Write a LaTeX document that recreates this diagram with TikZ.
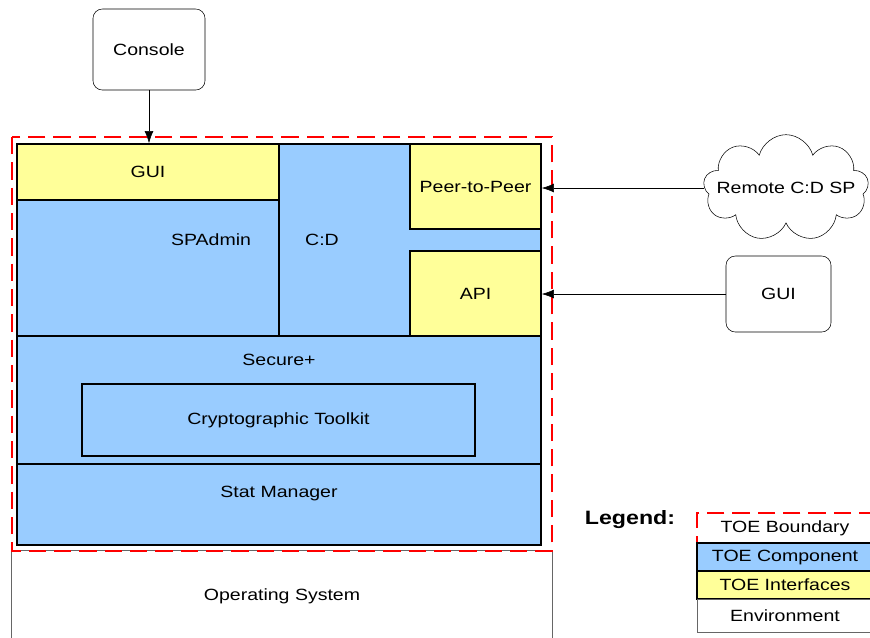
\documentclass[tikz,border=0pt]{standalone}
\usepackage{fontspec}
\setmainfont{Liberation Sans}[FakeStretch=1.2]
\usetikzlibrary{arrows.meta, fit, shapes.symbols}
\definecolor{toeblue}{HTML}{99CCFF}
\definecolor{toeyellow}{HTML}{FFFF99}

\tikzset{
    comp/.style={draw, line width=1.2pt, fill=toeblue, inner sep=0pt},
    iface/.style={draw, line width=1.2pt, fill=toeyellow, inner sep=0pt},
    env/.style={draw, rounded corners=7pt, thin, inner sep=0pt},
    boundary/.style={draw=red, line width=2.2pt, dash pattern=on 13pt off 6pt},
    link/.style={-{Latex[length=9pt,width=6.5pt]}, thin},
}

\begin{document}
\begin{tikzpicture}[x=0.75pt, y=-0.75pt, font=\fontsize{12.2}{14}\selectfont]
    \useasboundingbox (0,0) rectangle (870,637);

    % environment below the TOE
    \node[fit={(12,551) (552,660)}, inner sep=0pt] (os) {};
    \draw[black!60] (os.south west) -- (os.north west) -- (os.north east) -- (os.south east);
    \node at (282,596) {Operating System};

    % TOE components
    \node[comp, fit={(279,144) (541,336)}] (cd) {};
    \node[comp, fit={(17,200) (279,336)}] (spadmin) {};
    \node[iface, fit={(17,144) (279,200)}, label=center:GUI] (gui) {};
    \node[iface, fit={(410,144) (541,229)}, label=center:Peer-to-Peer] (p2p) {};
    \node[iface, fit={(410,251) (541,336)}, label=center:API] (api) {};
    \node[comp, fit={(17,336) (541,464)}] (secure) {};
    \node[comp, fit={(82,384) (475,456)}, label=center:Cryptographic Toolkit] (crypto) {};
    \node[comp, fit={(17,464) (541,545)}] (stat) {};
    \draw[line width=2pt] (17,144) rectangle (541,545);
    \draw[boundary] (12,137) rectangle (552,551);

    % labels
    \node at (211,240) {SPAdmin};
    \node at (322,240) {C:D};
    \node at (279,360) {Secure+};
    \node at (279,493) {Stat Manager};

    % outside entities
    \node[env, minimum width=84pt, minimum height=60.75pt] (console) at (149,49.5) {Console};
    \node[cloud, draw, thin, cloud puffs=9, minimum width=124pt, minimum height=80pt] (remote) at (786,188) {};
    \node at (remote) {Remote C:D SP};
    \node[env, minimum width=78.75pt, minimum height=57pt] (guiext) at (778.5,294) {GUI};

    % connectors
    \draw[link] (console.south) -- (console.south |- gui.north);
    \draw[link] (remote.west) -- (remote.west -| p2p.east);
    \draw[link] (guiext.west) -- (guiext.west -| api.east);

    % legend
    \node[font=\fontsize{14.5}{16}\selectfont\bfseries] (legend) at (630,520) {Legend:};
    \node[boundary, fit={(697,513) (873,543)}, inner sep=0pt, label=center:TOE Boundary] (lgbound) {};
    \node[comp, line width=2pt, fit={(697,543) (873,571)}, label=center:TOE Component] (lgcomp) {};
    \node[iface, line width=2pt, fit={(697,571) (873,599)}, label=center:TOE Interfaces] (lgiface) {};
    \node[draw=black!60, thin, fit={(697,599) (873,632)}, inner sep=0pt, label=center:Environment] (lgenv) {};
\end{tikzpicture}
\end{document}
